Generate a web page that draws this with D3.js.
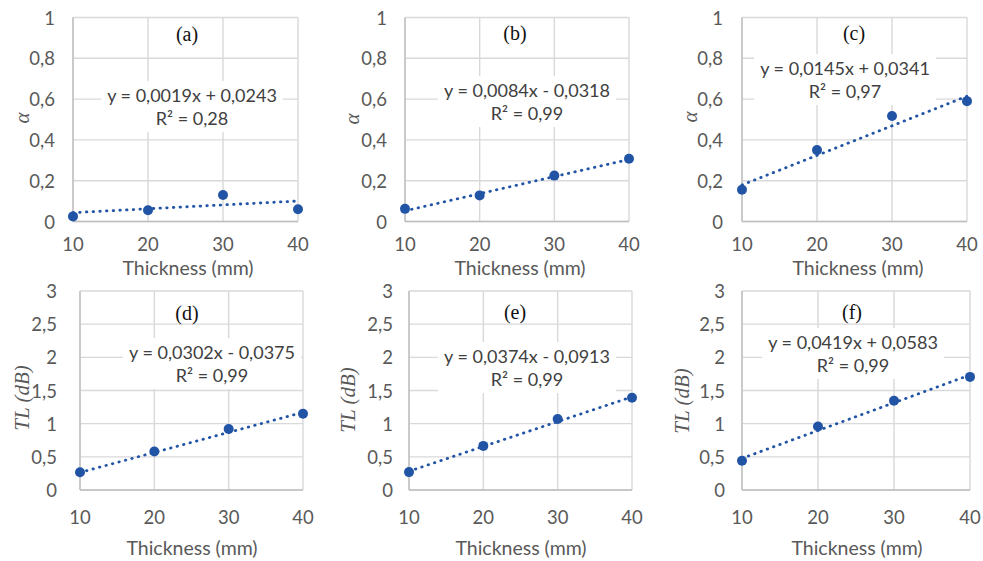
<!DOCTYPE html>
<html>
<head>
<meta charset="utf-8">
<script src="https://cdn.jsdelivr.net/npm/d3@7"></script>
<style>
  body { margin: 0; background: #fff; }
  svg { display: block; }
  .tick-label { font-family: Lato, "Open Sans", sans-serif; font-size: 18.5px; fill: #595959; }
  .axis-title { font-family: Lato, "Open Sans", sans-serif; font-size: 19.5px; fill: #595959; }
  .eq { font-family: Lato, "Open Sans", sans-serif; font-size: 18px; fill: #404040; }
  .panel-label { font-family: "Liberation Serif", "DejaVu Serif", serif; font-size: 20px; fill: #111; }
  .y-title { font-family: "Liberation Serif", "DejaVu Serif", serif; font-style: italic; font-size: 21px; fill: #595959; }
</style>
</head>
<body>
<svg id="chart" width="983" height="561"></svg>
<script>
// data
const thickness = [10, 20, 30, 40];
const xTicks = [10, 20, 30, 40];
const alphaTicks = [0, 0.2, 0.4, 0.6, 0.8, 1];
const tlTicks = [0, 0.5, 1, 1.5, 2, 2.5, 3];

const panelNames = ["(a)", "(b)", "(c)", "(d)", "(e)", "(f)"];
const seriesA = [0.025, 0.055, 0.13, 0.06];
const seriesB = [0.062, 0.128, 0.225, 0.308];
const seriesC = [0.156, 0.35, 0.517, 0.59];
const seriesD = [0.268, 0.58, 0.92, 1.15];
const seriesE = [0.27, 0.665, 1.07, 1.39];
const seriesF = [0.44, 0.957, 1.345, 1.705];
const slopes = [0.0019, 0.0084, 0.0145, 0.0302, 0.0374, 0.0419];
const intercepts = [0.0243, -0.0318, 0.0341, -0.0375, -0.0913, 0.0583];
const rSquared = [0.28, 0.99, 0.97, 0.99, 0.99, 0.99];

const series = [seriesA, seriesB, seriesC, seriesD, seriesE, seriesF];

// where each small chart sits on the page
const layout = [
  { x0: 73, x1: 298, y0: 221.5, y1: 17.5, gap: 18, yt: [22, 118], eq: [192, 95], lab: [187, 34], xt: 244, ttl: [188, 267] },
  { x0: 405, x1: 629, y0: 221.5, y1: 17.5, gap: 18, yt: [352, 119], eq: [527, 90], lab: [515, 33], xt: 244, ttl: [520, 267] },
  { x0: 742, x1: 967, y0: 221.5, y1: 17.5, gap: 19, yt: [690, 117], eq: [845, 68], lab: [854, 33], xt: 244, ttl: [858, 267] },
  { x0: 80, x1: 303, y0: 490, y1: 291, gap: 23, yt: [22, 398], eq: [212, 352], lab: [187, 313], xt: 517, ttl: [192, 547] },
  { x0: 409, x1: 632, y0: 490, y1: 291, gap: 16, yt: [348, 400], eq: [527, 356], lab: [515, 312], xt: 517, ttl: [521, 547] },
  { x0: 742, x1: 970, y0: 490, y1: 291, gap: 17, yt: [682, 401], eq: [853, 342], lab: [852, 312], xt: 517, ttl: [857, 547] }
];

const blue = "#2254a6";
const gridColor = "#d9d9d9";
const comma = v => String(v).replace(".", ",");
const fmt4 = v => Math.abs(v).toFixed(4).replace(".", ",");

const svg = d3.select("#chart");
svg.append("rect").attr("width", 983).attr("height", 561).attr("fill", "#fff");

series.forEach((values, i) => {
  const L = layout[i];
  const isAlpha = i < 3;
  const yTicks = isAlpha ? alphaTicks : tlTicks;

  const x = d3.scaleLinear().domain([10, 40]).range([L.x0, L.x1]);
  const y = d3.scaleLinear().domain([0, d3.max(yTicks)]).range([L.y0, L.y1]);

  const g = svg.append("g");

  // gridlines
  g.selectAll(".hg").data(yTicks).join("line")
    .attr("x1", L.x0).attr("x2", L.x1)
    .attr("y1", d => y(d)).attr("y2", d => y(d))
    .attr("stroke", gridColor).attr("stroke-width", 1.4);
  g.selectAll(".vg").data(xTicks).join("line")
    .attr("x1", d => x(d)).attr("x2", d => x(d))
    .attr("y1", L.y0).attr("y2", L.y1)
    .attr("stroke", gridColor).attr("stroke-width", 1.4);

  // axis lines
  g.append("line").attr("x1", L.x0).attr("x2", L.x0).attr("y1", L.y0).attr("y2", L.y1)
    .attr("stroke", "#bfbfbf").attr("stroke-width", 1.4);
  g.append("line").attr("x1", L.x0).attr("x2", L.x1).attr("y1", L.y0).attr("y2", L.y0)
    .attr("stroke", "#bfbfbf").attr("stroke-width", 1.4);

  // tick labels
  g.selectAll(".yl").data(yTicks).join("text")
    .attr("class", "tick-label")
    .attr("x", L.x0 - L.gap).attr("y", d => y(d))
    .attr("text-anchor", "end").attr("dominant-baseline", "central")
    .text(d => comma(d));
  g.selectAll(".xl").data(xTicks).join("text")
    .attr("class", "tick-label")
    .attr("x", d => x(d)).attr("y", L.xt)
    .attr("text-anchor", "middle").attr("dominant-baseline", "central")
    .text(d => d);

  // axis titles
  g.append("text").attr("class", "axis-title")
    .attr("x", L.ttl[0]).attr("y", L.ttl[1])
    .attr("text-anchor", "middle").attr("dominant-baseline", "central")
    .text("Thickness (mm)");
  g.append("text").attr("class", "y-title")
    .attr("transform", `translate(${L.yt[0]},${L.yt[1]}) rotate(-90)`)
    .attr("text-anchor", "middle").attr("dominant-baseline", "central")
    .text(isAlpha ? "α" : "TL (dB)");

  // panel label
  g.append("text").attr("class", "panel-label")
    .attr("x", L.lab[0]).attr("y", L.lab[1])
    .attr("text-anchor", "middle").attr("dominant-baseline", "central")
    .text(panelNames[i]);

  // trend line from the fitted equation
  const trend = d3.line().x(d => x(d)).y(d => y(slopes[i] * d + intercepts[i]));
  g.append("path")
    .attr("d", trend([thickness[0], thickness[thickness.length - 1]]))
    .attr("fill", "none").attr("stroke", blue)
    .attr("stroke-width", 2.8).attr("stroke-linecap", "round")
    .attr("stroke-dasharray", "0.5 6.2");

  // data points
  g.selectAll(".pt").data(values).join("circle")
    .attr("cx", (d, k) => x(thickness[k])).attr("cy", d => y(d))
    .attr("r", 5).attr("fill", blue);

  // equation label with white box
  const eqG = g.append("g");
  const sign = intercepts[i] < 0 ? "-" : "+";
  eqG.append("text").attr("class", "eq")
    .attr("x", L.eq[0]).attr("y", L.eq[1])
    .attr("text-anchor", "middle").attr("dominant-baseline", "central")
    .text(`y = ${fmt4(slopes[i])}x ${sign} ${fmt4(intercepts[i])}`);
  eqG.append("text").attr("class", "eq")
    .attr("x", L.eq[0]).attr("y", L.eq[1] + 23)
    .attr("text-anchor", "middle").attr("dominant-baseline", "central")
    .text(`R² = ${comma(rSquared[i].toFixed(2))}`);
  const b = eqG.node().getBBox();
  eqG.insert("rect", "text")
    .attr("x", b.x - 6).attr("y", b.y - 3)
    .attr("width", b.width + 12).attr("height", b.height + 6)
    .attr("fill", "#fff");
});
</script>
</body>
</html>
